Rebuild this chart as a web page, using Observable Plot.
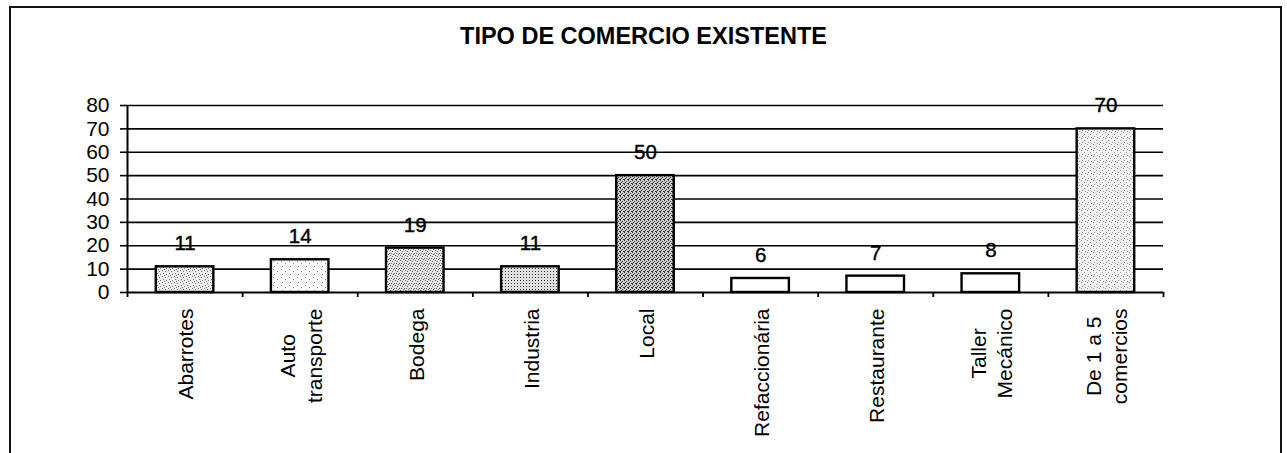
<!DOCTYPE html>
<html>
<head>
<meta charset="utf-8">
<script src="https://cdn.jsdelivr.net/npm/d3@7"></script>
<script src="https://cdn.jsdelivr.net/npm/@observablehq/plot@0.6"></script>
<style>
  html, body { margin: 0; padding: 0; background: #fff; }
  body { width: 1287px; height: 453px; overflow: hidden; position: relative; font-family: "Liberation Sans", Arial, sans-serif; }
  #frame { position: absolute; left: 9px; top: 6px; width: 1273px; height: 470px; border: 2px solid #111; box-sizing: border-box; pointer-events: none; }
  #title { height: 60px; box-sizing: border-box; padding-top: 23px; text-align: center; font-weight: bold; font-size: 23.5px; line-height: 26px; color: #000; }
  #chart svg { display: block; }
</style>
</head>
<body>
<div id="title">TIPO DE COMERCIO EXISTENTE</div>
<div id="chart"></div>
<div id="frame"></div>
<script>
// ---- data ----
const categories = ["Abarrotes", "Auto\ntransporte", "Bodega", "Industria", "Local", "Refaccionária", "Restaurante", "Taller\nMecánico", "De 1 a 5\ncomercios"];
const values = [11, 14, 19, 11, 50, 6, 7, 8, 70];
const yTicks = [0, 10, 20, 30, 40, 50, 60, 70, 80];

// ---- styles ----
const barFills = ["url(#pAbarrotes)", "url(#pAuto)", "url(#pBodega)", "url(#pIndustria)", "url(#pLocal)", "#ffffff", "#ffffff", "#ffffff", "url(#pDe1a5)"];

const data = categories.map((c, i) => ({i, name: c, value: values[i], fill: barFills[i]}));

const plot = Plot.plot({
  width: 1287,
  height: 393,
  marginLeft: 127,
  marginRight: 124,
  marginTop: 45,
  marginBottom: 161,
  style: {fontFamily: "Liberation Sans, Arial, sans-serif", fontSize: "20px", color: "#000", background: "transparent", overflow: "visible"},
  x: {type: "linear", domain: [0, categories.length], label: null},
  y: {domain: [0, 80], label: null},
  color: {type: "identity"},
  marks: [
    Plot.ruleY(yTicks.filter(d => d > 0), {stroke: "#000", strokeWidth: 1.7}),
    Plot.rectY(data, {x1: d => d.i + 0.25, x2: d => d.i + 0.75, y: "value", fill: "fill", stroke: "#000", strokeWidth: 2.4}),
    Plot.text(data, {x: d => d.i + 0.5, y: "value", text: d => String(d.value), dy: -23, fontSize: 20.5, fill: "#000", stroke: "#000", strokeWidth: 0.4}),
    Plot.ruleY([0], {stroke: "#000", strokeWidth: 2}),
    Plot.ruleX([0], {stroke: "#000", strokeWidth: 2}),
    Plot.axisY({ticks: yTicks, label: null, tickSize: 7, tickPadding: 11, tickFormat: d => String(d), fontSize: 21, strokeWidth: 1.6}),
    Plot.axisX({ticks: d3.range(categories.length + 1), label: null, tickSize: 5, tickFormat: () => "", strokeWidth: 1.8}),
    Plot.axisX({ticks: d3.range(categories.length).map(i => i + 0.5), label: null, tickSize: 0, tickPadding: 16, tickRotate: -90,
      lineHeight: 1.25, tickFormat: v => categories[Math.floor(v)], fontSize: 21})
  ]
});

document.getElementById("chart").appendChild(plot);

// pattern definitions for the bar fills
const svg = d3.select(plot);
const defs = svg.insert("defs", ":first-child");
function dotPattern(id, bg, fg, size, dots) {
  const p = defs.append("pattern").attr("id", id).attr("patternUnits", "userSpaceOnUse").attr("width", size).attr("height", size);
  p.append("rect").attr("width", size).attr("height", size).attr("fill", bg);
  dots.forEach(([x, y]) => p.append("rect").attr("x", x).attr("y", y).attr("width", 1).attr("height", 1).attr("fill", fg));
}
dotPattern("pAbarrotes", "#ececec", "#777", 6, [[0,0],[3,1],[1,3],[4,4],[2,5]]);
dotPattern("pAuto", "#fafafa", "#888", 8, [[1,1],[5,3],[2,6]]);
dotPattern("pBodega", "#e4e4e4", "#666", 5, [[0,0],[2,1],[4,3],[1,3],[3,4]]);
dotPattern("pIndustria", "#e0e0e0", "#333", 3, [[1,1]]);
dotPattern("pLocal", "#cfcfcf", "#333", 4, [[0,0],[2,1],[1,2],[3,3],[0,3]]);
dotPattern("pDe1a5", "#f0f0f0", "#999", 6, [[1,0],[4,2],[2,4],[5,5]]);

// centre the lines of multi-line category labels within their block
svg.selectAll('g[aria-label="x-axis tick label"] text').each(function() {
  const tspans = d3.select(this).selectAll("tspan");
  if (tspans.size() < 2) return;
  let w = 0;
  tspans.each(function() { w = Math.max(w, this.getComputedTextLength()); });
  d3.select(this).attr("text-anchor", "middle");
  tspans.attr("x", -w / 2);
});
</script>
</body>
</html>
